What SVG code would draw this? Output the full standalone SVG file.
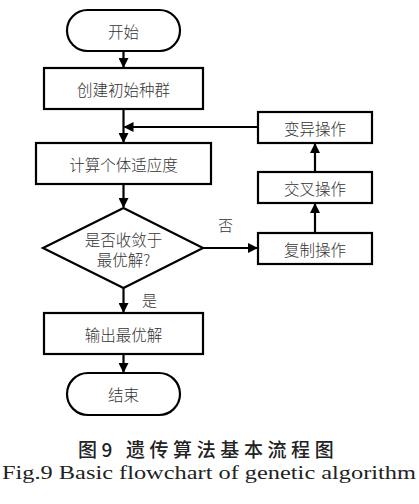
<svg xmlns="http://www.w3.org/2000/svg" width="419" height="504" viewBox="0 0 419 504">
<style>
.n{fill:#fff;stroke:#000;stroke-width:2.2}
.t{font-family:"Noto Sans CJK SC","Liberation Sans",sans-serif;font-size:15.5px;fill:#333;text-anchor:middle;dominant-baseline:central;font-weight:300}
.c{fill:none;stroke:#000;stroke-width:2.2}
.l{font-family:"Noto Sans CJK SC",sans-serif;font-size:15px;fill:#333;font-weight:300}
</style>
<defs>
<marker id="a" markerWidth="10" markerHeight="10" refX="9" refY="5" orient="auto" markerUnits="userSpaceOnUse">
<path d="M0,0 L10,5 L0,10 z" fill="#000"/>
</marker>
</defs>
<rect width="419" height="504" fill="#fff"/>
<g id="connectors">
<line class="c" x1="123.5" y1="51" x2="123.5" y2="67" marker-end="url(#a)"/>
<line class="c" x1="123.5" y1="109" x2="123.5" y2="142" marker-end="url(#a)"/>
<line class="c" x1="258" y1="127" x2="124.5" y2="127" marker-end="url(#a)"/>
<line class="c" x1="123.5" y1="184" x2="123.5" y2="207" marker-end="url(#a)"/>
<line class="c" x1="203" y1="248" x2="257" y2="248" marker-end="url(#a)"/>
<line class="c" x1="315" y1="233" x2="315" y2="204" marker-end="url(#a)"/>
<line class="c" x1="315" y1="172" x2="315" y2="144" marker-end="url(#a)"/>
<line class="c" x1="123.5" y1="288" x2="123.5" y2="312" marker-end="url(#a)"/>
<line class="c" x1="123.5" y1="354" x2="123.5" y2="372" marker-end="url(#a)"/>
<text class="l" x="218" y="231">否</text>
<text class="l" x="142" y="306">是</text>
</g>
<g id="start">
<rect class="n" x="67" y="10" width="113" height="41" rx="20.5"/>
<text class="t" x="123.5" y="30.5">开始</text>
</g>
<g id="init">
<rect class="n" x="44" y="68" width="159" height="41"/>
<text class="t" x="123.5" y="88.5">创建初始种群</text>
</g>
<g id="fitness">
<rect class="n" x="36" y="143" width="175" height="41"/>
<text class="t" x="123.5" y="163.5">计算个体适应度</text>
</g>
<g id="decision">
<polygon class="n" points="123.5,208 203,248 123.5,288 43,248"/>
<text class="t" x="123.5" y="239">是否收敛于</text>
<text class="t" x="123.5" y="259">最优解?</text>
</g>
<g id="output">
<rect class="n" x="44" y="313" width="159" height="41"/>
<text class="t" x="123.5" y="333.5">输出最优解</text>
</g>
<g id="end">
<rect class="n" x="67" y="373" width="113" height="42" rx="21"/>
<text class="t" x="123.5" y="394">结束</text>
</g>
<g id="mutation">
<rect class="n" x="258" y="112" width="114" height="31"/>
<text class="t" x="315" y="127.5">变异操作</text>
</g>
<g id="crossover">
<rect class="n" x="258" y="172" width="114" height="31"/>
<text class="t" x="315" y="187.5">交叉操作</text>
</g>
<g id="copy">
<rect class="n" x="258" y="233" width="114" height="31"/>
<text class="t" x="315" y="248.5">复制操作</text>
</g>
<g id="caption">
<text x="78" y="457" font-family="Noto Sans CJK SC,sans-serif" font-size="19" font-weight="500" fill="#222" letter-spacing="4.6">图9 遗传算法基本流程图</text>
<text x="2" y="479" font-family="Liberation Serif,serif" font-size="18.5" fill="#222" textLength="414" lengthAdjust="spacingAndGlyphs">Fig.9  Basic flowchart of genetic algorithm</text>
</g>
</svg>
